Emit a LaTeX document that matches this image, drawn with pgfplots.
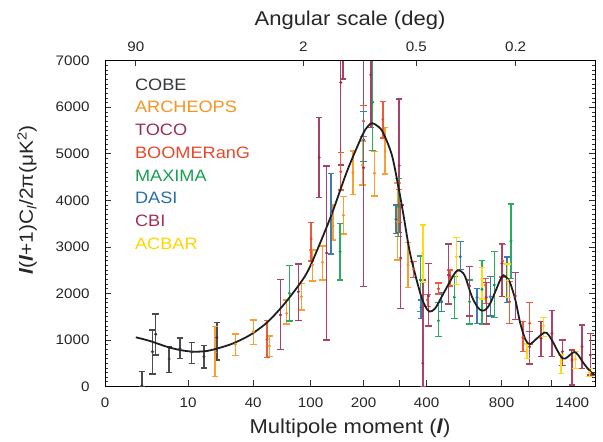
\documentclass[border=0pt]{standalone}
\usepackage{fontspec}
\setmainfont{Liberation Sans}[FakeStretch=1.1]
\usepackage{pgfplots}
\usepackage{pgfplotstable}
\pgfplotsset{compat=1.18}

\definecolor{cobe}{RGB}{52,56,60}
\definecolor{archeops}{RGB}{247,148,29}
\definecolor{toco}{RGB}{158,44,86}
\definecolor{boom}{RGB}{232,72,42}
\definecolor{maxima}{RGB}{22,160,80}
\definecolor{dasi}{RGB}{40,110,165}
\definecolor{cbi}{RGB}{166,46,82}
\definecolor{acbar}{RGB}{255,212,0}

\pgfplotstableread{
l y ep em
2.5 20 300 20
3.6 748 466 479
4.0 1122 436 445
6.0 591 264 294
8.1 813 229 207
11 741 209 243
14.7 640 237 242
19.6 1049 331 479
}\cobe

\pgfplotstableread{
l y ep em
18.9 735 550 524
28.6 907 221 237
40 1178 251 280
52.9 870 215 230
70 1573 286 230
87.6 1930 288 286
102.7 2611 322 344
118 2669 350 380
136 3450 450 300
155.8 3675 405 400
175.5 4595 466 464
197.3 4760 516 430
227.6 4582 464 488
257 5061 501 494
295 3540 830 820
330 2611 479 479
}\archeops

\pgfplotstableread{
l y ep em
63.4 1537 767 738
83.7 2037 596 623
112.8 4925 860 859
125 2870 1870 1870
150.7 6530 1500 1770
155 7700 1000 1090
200 4700 2550 2550
218 6694 800 1124
300 4745 1433 1433
}\toco

\pgfplotstableread{
l y ep em
50.9 1014 400 395
100.8 3170 350 473
150.7 4616 408 393
200 5700 330 330
250.6 5742 378 400
300 3880 350 350
350 2518 164 171
404 1860 110 145
450 2100 125 110
504 2360 144 200
697 2180 145 390
808 2700 350 350
856 1822 431 464
956 1057 336 309
1009 1358 443 445
}\boom

\pgfplotstableread{
l y ep em
73 2003 593 595
149.4 2897 610 608
223 6107 1040 1040
298 3864 610 645
375 2289 515 682
450 1414 387 344
524 1917 443 451
604 1822 467 479
675 2089 615 746
752 2181 716 694
866 3127 795 802
}\maxima

\pgfplotstableread{
l y ep em
132.7 3722 860 874
200 5300 606 470
290 3593 307 301
378 1700 160 240
465 1822 194 215
554 2790 322 271
646 1917 193 559
726 1930 430 415
838 2290 490 490
}\dasi

\pgfplotstableread{
l y ep em
305 2760 1140 1080
385 500 1790 500
408 1945 703 645
496 2396 666 623
604 2160 415 645
701 1917 314 574
803 2648 428 718
898 1945 501 501
1009 855 323 371
1104 1036 357 396
1202 1143 486 503
1300 750 250 300
1397 570 214 538
1504 855 467 464
1596 677 466 430
}\cbi

\pgfplotstableread{
l y ep em
385 2862 609 623
534 2790 416 594
675 2289 273 409
842 2274 359 357
988 748 165 142
1126 1300 187 230
1287 533 144 249
1432 584 164 193
1588 297 94 86
}\acbar

\pgfplotstableread{
l y
2 1057
3.3 978
5.6 855
8.1 784
11.4 748
15.7 763
21 834
27.5 928
37.8 1107
50.7 1371
66.5 1751
85.9 2218
99.3 2580
131 3615
162.8 4616
192 5297
205 5530
220 5656
238 5583
252 5441
277 4975
298 4280
314 3700
338 2840
375 2003
395 1720
412 1610
436 1680
473 2003
521 2396
540 2490
560 2470
580 2360
617 1930
650 1700
675 1630
700 1660
726 1788
760 2050
791 2289
814 2390
840 2320
861 2218
898 1859
935 1358
974 1014
1010 910
1070 1036
1135 1160
1170 1110
1217 928
1260 740
1300 606
1330 600
1363 655
1420 740
1460 680
1521 499
1570 380
1616 284
1650 250
}\theory

\pgfplotsset{
  lscale/.style={
    x coord trafo/.code={\pgfmathparse{(##1)^0.25}},
    x coord inv trafo/.code={\pgfmathparse{(##1)^4}},
    xmin=0.5, xmax=1650, ymin=0, ymax=7000,
    scale only axis, width=490pt, height=325.8pt,
  },
  expt/.style={only marks, mark=*, mark size=1.3pt, color=#1,
    mark options={fill=#1, draw=#1},
    error bars/.cd, y dir=both, y explicit,
    error bar style={line width=1.35pt, #1!90!white},
    error mark options={rotate=90, mark size=3.3pt, line width=1.3pt, #1!90!white}},
}

\begin{document}
\begin{tikzpicture}
\begin{axis}[name=main, lscale,
  axis line style={black, line width=0.8pt},
  tick style={black!80, line width=0.7pt},
  tick align=inside,
  major tick length=6pt, minor tick length=3.5pt,
  xtick={0.5,10,40,100,200,300,400,600,800,1000,1200,1400},
  xticklabels={0,10,40,100,200,,400,,800,,,1400},
  xtick pos=left,
  ytick={0,1000,...,7000}, minor y tick num=9,
  ytick pos=both, yticklabel pos=left,
  /pgf/number format/1000 sep={},
  /pgf/number format/assume math mode=true,
  tick label style={font=\fontsize{13.8}{16}\selectfont, text=black!85},
  xticklabel style={yshift=-8pt},
  yticklabel style={xshift=-12pt},
  xlabel={Multipole moment (\textbf{\textit{l}})},
  xlabel style={font=\fontsize{20}{24}\selectfont, at={(axis description cs:0.5,0)}, anchor=base, yshift=-47pt, text=black!85},
  ylabel={\textbf{\textit{l}}(\textbf{\textit{l}}+1)C\textsubscript{\textit{l}}/2π(μK\textsuperscript{2})},
  ylabel style={font=\fontsize{19}{23}\selectfont, at={(axis description cs:-0.159,0.572)}, anchor=center, text=black!85},
  legend image code/.code={},
  legend cell align=left,
  legend style={draw=none, fill=none, at={(axis description cs:0.061,0.946)}, anchor=north west,
    inner sep=0pt, row sep=10.9pt, font=\fontsize{16.5}{19}\selectfont,
    nodes={inner sep=0pt, text height=11.8pt, text depth=0pt}},
]
\addplot[expt=cobe] table[x=l,y=y,y error plus=ep,y error minus=em]{\cobe};
\addlegendentry{\textcolor{cobe}{COBE}}
\addplot[expt=archeops] table[x=l,y=y,y error plus=ep,y error minus=em]{\archeops};
\addlegendentry{\textcolor{archeops}{ARCHEOPS}}
\addplot[expt=toco] table[x=l,y=y,y error plus=ep,y error minus=em]{\toco};
\addlegendentry{\textcolor{toco}{TOCO}}
\addplot[expt=boom] table[x=l,y=y,y error plus=ep,y error minus=em]{\boom};
\addlegendentry{\textcolor{boom}{BOOMERanG}}
\addplot[expt=maxima] table[x=l,y=y,y error plus=ep,y error minus=em]{\maxima};
\addlegendentry{\textcolor{maxima}{MAXIMA}}
\addplot[expt=dasi] table[x=l,y=y,y error plus=ep,y error minus=em]{\dasi};
\addlegendentry{\textcolor{dasi}{DASI}}
\addplot[expt=cbi] table[x=l,y=y,y error plus=ep,y error minus=em]{\cbi};
\addlegendentry{\textcolor{cbi}{CBI}}
\addplot[expt=acbar] table[x=l,y=y,y error plus=ep,y error minus=em]{\acbar};
\addlegendentry{\textcolor{acbar}{ACBAR}}
\addplot[smooth, line width=1.8pt, color=black!88, forget plot] table[x=l,y=y]{\theory};
\end{axis}
\begin{axis}[lscale, at={(main.south west)}, anchor=south west,
  axis x line*=top, axis y line=none,
  axis line style={black, line width=0.8pt},
  tick style={black!80, line width=0.7pt},
  tick align=inside, major tick length=5pt,
  xtick={2,90,360,900},
  xticklabels={90,2,0.5,0.2},
  tick label style={font=\fontsize{13.8}{16}\selectfont, text=black!85},
  xticklabel style={yshift=6pt},
  xlabel={Angular scale (deg)},
  xlabel style={font=\fontsize{20}{24}\selectfont, at={(axis description cs:0.5,1)}, anchor=base, yshift=34.7pt, text=black!85},
]
\end{axis}
\pgfresetboundingbox
\path[use as bounding box] (main.south west) ++(-105pt,-55.5pt) rectangle ++(603pt,442pt);
\end{tikzpicture}
\end{document}
